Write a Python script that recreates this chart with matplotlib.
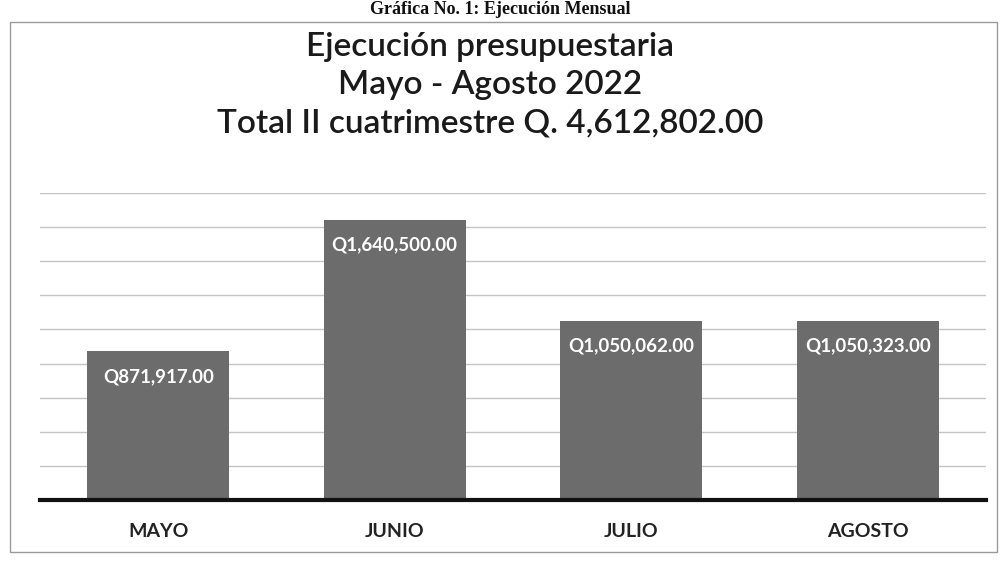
import matplotlib.pyplot as plt
from matplotlib.patches import Rectangle

months = ["MAYO", "JUNIO", "JULIO", "AGOSTO"]
executed = [871917.00, 1640500.00, 1050062.00, 1050323.00]
total = 4612802.00

title_lines = [
    "Ejecución presupuestaria",
    "Mayo - Agosto 2022",
    f"Total II cuatrimestre Q. {total:,.2f}",
]

plt.rcParams["font.family"] = ["Lato", "DejaVu Sans"]

fig = plt.figure(figsize=(10.01, 5.61), dpi=100)
ax = fig.add_axes([40 / 1001, 1 - 500 / 561, 946 / 1001, 307 / 561])

x = range(len(months))
bars = ax.bar(x, executed, width=0.6, color="#6c6c6c", zorder=2)

# value labels sit inside the top of each bar
for bar, val in zip(bars, executed):
    ax.annotate(f"Q{val:,.2f}", (bar.get_x() + bar.get_width() / 2, val),
                xytext=(0, -25), textcoords="offset pixels",
                ha="center", va="center", color="white",
                fontsize=13.5, fontweight="bold", zorder=3)

ax.set_xlim(-0.5, 3.5)
ax.set_ylim(0, 1800000)
ax.set_yticks(range(0, 1800001, 200000))
ax.yaxis.grid(True, color="#c4c4c4", linewidth=1, zorder=0)
ax.tick_params(axis="y", left=False, labelleft=False)
ax.tick_params(axis="x", bottom=False, pad=13)
ax.set_xticks(list(x))
ax.set_xticklabels(months, fontsize=14, fontweight="bold", color="#222222")
for side in ["left", "right", "top"]:
    ax.spines[side].set_visible(False)
ax.spines["bottom"].set_linewidth(3)
ax.spines["bottom"].set_color("#111111")
ax.spines["bottom"].set_zorder(4)

for i, line in enumerate(title_lines):
    fig.text(490 / 1001, 1 - (47 + 38 * i) / 561, line, ha="center", va="center",
             fontsize=24, fontweight="semibold", color="#1a1a1a")

# page caption above the chart
fig.text(500 / 1001, 1 - 9 / 561, "Gráfica No. 1: Ejecución Mensual", ha="center",
         va="center", fontsize=13, fontweight="bold", family="Liberation Serif",
         color="#111111")

fig.patches.append(Rectangle((10 / 1001, 1 - 552 / 561), 987 / 1001, 530 / 561,
                             transform=fig.transFigure, fill=False,
                             edgecolor="#999999", linewidth=1))

fig.savefig("out.png", dpi=100)
